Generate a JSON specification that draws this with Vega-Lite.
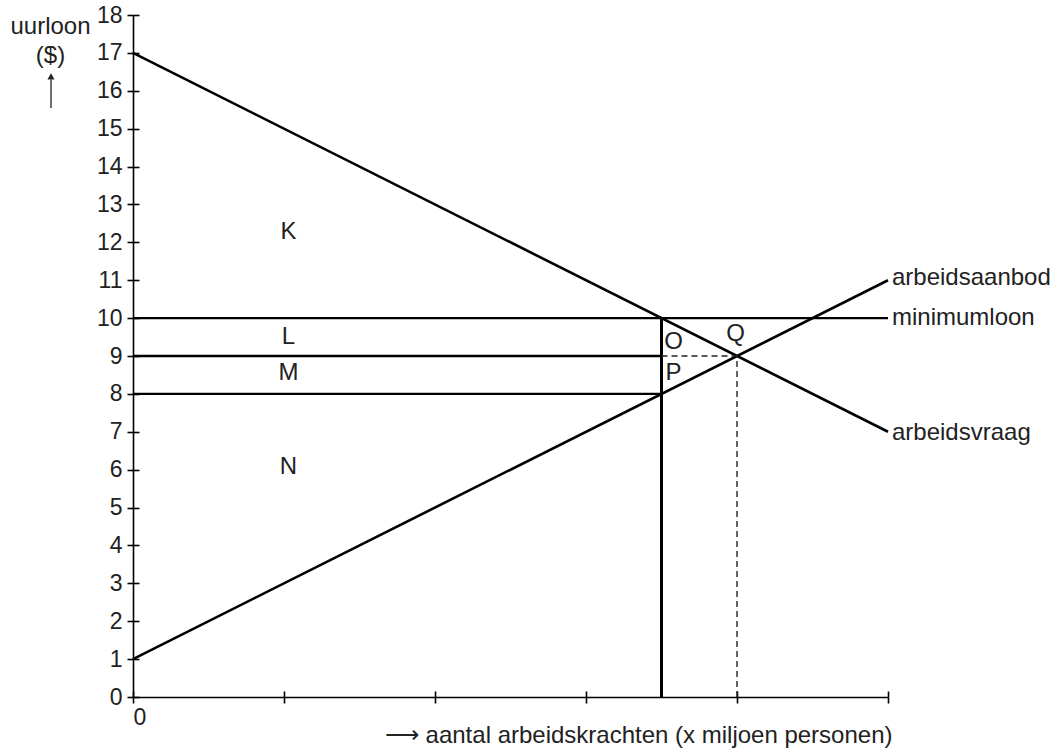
{
  "$schema": "https://vega.github.io/schema/vega-lite/v6.json",
  "width": 755,
  "height": 682,
  "autosize": {"type": "none"},
  "padding": {"left": 133, "top": 15, "right": 171, "bottom": 57},
  "background": "white",
  "config": {
    "view": {"stroke": null},
    "font": "Liberation Sans",
    "axis": {
      "domainColor": "#000000",
      "domainWidth": 1.6,
      "tickColor": "#000000",
      "tickWidth": 1.6,
      "grid": false,
      "labelFont": "Liberation Sans",
      "titleFont": "Liberation Sans",
      "labelColor": "#222222",
      "titleColor": "#222222",
      "titleFontWeight": "normal"
    }
  },
  "datasets": {
    "lijnen": [
      {"segment": "arbeidsvraag", "kind": "curve", "x": 0, "y": 17, "x2": 5, "y2": 7},
      {"segment": "arbeidsaanbod", "kind": "curve", "x": 0, "y": 1, "x2": 5, "y2": 11},
      {"segment": "minimumloon", "kind": "hulp", "x": 0, "y": 10, "x2": 5, "y2": 10},
      {"segment": "loon 9", "kind": "hulp", "x": 0, "y": 9, "x2": 3.5, "y2": 9},
      {"segment": "loon 8", "kind": "hulp", "x": 0, "y": 8, "x2": 3.5, "y2": 8},
      {"segment": "vraag bij minimumloon", "kind": "verticaal", "x": 3.5, "y": 0, "x2": 3.5, "y2": 10},
      {"segment": "evenwichtsloon", "kind": "stippel", "x": 3.5, "y": 9, "x2": 4, "y2": 9},
      {"segment": "evenwichtshoeveelheid", "kind": "stippel", "x": 4, "y": 0, "x2": 4, "y2": 9}
    ],
    "letters": [
      {"label": "K", "x": 1.03, "y": 12.27},
      {"label": "L", "x": 1.03, "y": 9.5},
      {"label": "M", "x": 1.03, "y": 8.55},
      {"label": "N", "x": 1.03, "y": 6.07},
      {"label": "O", "x": 3.58, "y": 9.37},
      {"label": "P", "x": 3.58, "y": 8.55},
      {"label": "Q", "x": 3.99, "y": 9.57}
    ],
    "namen": [
      {"label": "arbeidsaanbod", "x": 5, "y": 11.05},
      {"label": "minimumloon", "x": 5, "y": 10},
      {"label": "arbeidsvraag", "x": 5, "y": 6.98}
    ],
    "pijl": [
      {"x": -0.543, "y": 15.545, "y2": 16.3, "kop": 16.38}
    ]
  },
  "layer": [
    {
      "data": {"name": "lijnen"},
      "transform": [{"filter": "datum.kind == 'curve'"}],
      "mark": {"type": "rule", "color": "#000000", "strokeWidth": 2.6},
      "encoding": {
        "x": {
          "field": "x", "type": "quantitative",
          "scale": {"domain": [0, 5], "nice": false},
          "axis": {
            "orient": "bottom",
            "values": [0, 1, 2, 3, 4, 5],
            "tickSize": 6,
            "labelExpr": "datum.value == 0 ? '0' : ''",
            "labelFontSize": 23,
            "labelPadding": 3,
            "title": "⟶ aantal arbeidskrachten (x miljoen personen)",
            "titleFontSize": 24,
            "titleX": 759,
            "titleY": 45,
            "titleAlign": "right",
            "titleBaseline": "alphabetic"
          }
        },
        "y": {
          "field": "y", "type": "quantitative",
          "scale": {"domain": [0, 18], "nice": false},
          "axis": {
            "orient": "left",
            "values": [0, 1, 2, 3, 4, 5, 6, 7, 8, 9, 10, 11, 12, 13, 14, 15, 16, 17, 18],
            "tickSize": 6,
            "labelFontSize": 23,
            "labelPadding": 5,
            "title": ["uurloon", "($)"],
            "titleFontSize": 24,
            "titleAngle": 0,
            "titleAlign": "center",
            "titleBaseline": "alphabetic",
            "titleLineHeight": 29,
            "titleX": -83,
            "titleY": 18
          }
        },
        "x2": {"field": "x2"},
        "y2": {"field": "y2"}
      }
    },
    {
      "data": {"name": "lijnen"},
      "transform": [{"filter": "datum.kind == 'hulp'"}],
      "mark": {"type": "rule", "color": "#000000", "strokeWidth": 2.3},
      "encoding": {
        "x": {
          "field": "x", "type": "quantitative",
          "axis": {
            "orient": "bottom",
            "values": [0, 1, 2, 3, 4, 5],
            "tickSize": -6,
            "labels": false,
            "domain": false,
            "title": null
          }
        },
        "y": {
          "field": "y", "type": "quantitative",
          "axis": {
            "orient": "left",
            "values": [0, 1, 2, 3, 4, 5, 6, 7, 8, 9, 10, 11, 12, 13, 14, 15, 16, 17, 18],
            "tickSize": -6,
            "labels": false,
            "domain": false,
            "title": null
          }
        },
        "x2": {"field": "x2"},
        "y2": {"field": "y2"}
      }
    },
    {
      "data": {"name": "lijnen"},
      "transform": [{"filter": "datum.kind == 'verticaal'"}],
      "mark": {"type": "rule", "color": "#000000", "strokeWidth": 3},
      "encoding": {
        "x": {"field": "x", "type": "quantitative", "axis": null},
        "y": {"field": "y", "type": "quantitative", "axis": null},
        "x2": {"field": "x2"},
        "y2": {"field": "y2"}
      }
    },
    {
      "data": {"name": "lijnen"},
      "transform": [{"filter": "datum.kind == 'stippel'"}],
      "mark": {"type": "rule", "color": "#222222", "strokeWidth": 1.4, "strokeDash": [6, 4]},
      "encoding": {
        "x": {"field": "x", "type": "quantitative", "axis": null},
        "y": {"field": "y", "type": "quantitative", "axis": null},
        "x2": {"field": "x2"},
        "y2": {"field": "y2"}
      }
    },
    {
      "data": {"name": "letters"},
      "mark": {"type": "text", "fontSize": 24, "align": "center", "baseline": "middle", "color": "#222222", "font": "Liberation Sans"},
      "encoding": {
        "x": {"field": "x", "type": "quantitative", "axis": null},
        "y": {"field": "y", "type": "quantitative", "axis": null},
        "text": {"field": "label"}
      }
    },
    {
      "data": {"name": "namen"},
      "mark": {"type": "text", "fontSize": 24, "align": "left", "baseline": "middle", "dx": 4, "color": "#222222", "font": "Liberation Sans"},
      "encoding": {
        "x": {"field": "x", "type": "quantitative", "axis": null},
        "y": {"field": "y", "type": "quantitative", "axis": null},
        "text": {"field": "label"}
      }
    },
    {
      "data": {"name": "pijl"},
      "mark": {"type": "rule", "color": "#222222", "strokeWidth": 1.3},
      "encoding": {
        "x": {"field": "x", "type": "quantitative", "axis": null},
        "y": {"field": "y", "type": "quantitative", "axis": null},
        "y2": {"field": "y2"}
      }
    },
    {
      "data": {"name": "pijl"},
      "mark": {"type": "point", "shape": "triangle-up", "filled": true, "color": "#222222", "size": 50, "opacity": 1},
      "encoding": {
        "x": {"field": "x", "type": "quantitative", "axis": null},
        "y": {"field": "kop", "type": "quantitative", "axis": null}
      }
    }
  ],
  "resolve": {"axis": {"x": "independent", "y": "independent"}}
}
